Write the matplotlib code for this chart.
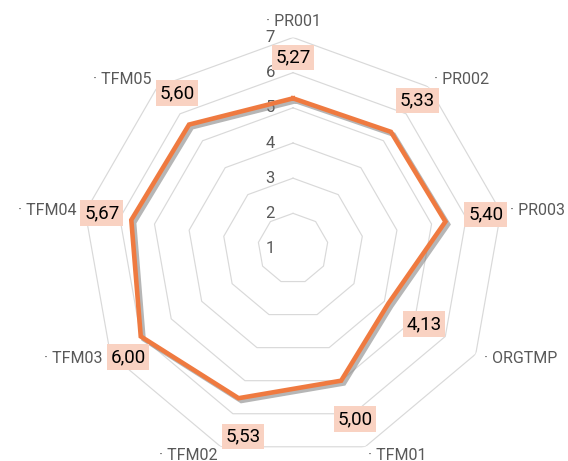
"""
Radar chart of average scores per item (Excel-style).
"""

import numpy as np
import matplotlib.pyplot as plt
from matplotlib import patheffects as pe


categories = ['PR001', 'PR002', 'PR003', 'ORGTMP', 'TFM01',
              'TFM02', 'TFM03', 'TFM04', 'TFM05']
values = [5.27, 5.33, 5.40, 4.13, 5.00, 5.53, 6.00, 5.67, 5.60]
r_ticks = [1, 2, 3, 4, 5, 6, 7]

LINE_COLOR = '#EF7A40'
GRID_COLOR = '#D9D9D9'
TEXT_GRAY = '#595959'
LABEL_BG = '#F9D2C2'

plt.rcParams['font.family'] = ['Roboto', 'DejaVu Sans']

fig = plt.figure(figsize=(5.68, 4.61), dpi=100)
ax = fig.add_axes([0.1444, 0.00325, 0.743, 0.9154], projection='polar')
ax.set_theta_zero_location('N')
ax.set_theta_direction(-1)
ax.set_ylim(r_ticks[0], r_ticks[-1])
ax.axis('off')

theta = np.linspace(0, 2 * np.pi, len(categories), endpoint=False)
closed = np.append(theta, theta[0])

# polygon grid rings
for r in r_ticks[1:]:
    ax.plot(closed, [r] * len(closed), color=GRID_COLOR, lw=0.85, zorder=1)

# radial tick labels along the top spoke
for r in r_ticks:
    ax.annotate(str(r), xy=(0, r), xytext=(-18, 0), textcoords='offset pixels',
                ha='right', va='center', fontsize=12, color=TEXT_GRAY)

# data series with a soft drop shadow
ax.plot(closed, values + values[:1], color=LINE_COLOR, lw=3.3, zorder=3,
        solid_joinstyle='miter',
        path_effects=[pe.SimpleLineShadow(offset=(2, -2), shadow_color='#7a7a7a', alpha=0.55),
                      pe.Normal()])

# category labels
cat_labels = []
for t, name in zip(theta, categories):
    s, c = np.sin(t), np.cos(t)
    if abs(s) < 0.01:
        ha, va = 'center', 'bottom'
    else:
        ha, va = ('left' if s > 0 else 'right'), 'center'
    txt = ax.annotate('· ' + name, xy=(t, r_ticks[-1]), xytext=(9 * s, 9 * c),
                      textcoords='offset pixels', ha=ha, va=va,
                      fontsize=11.5, color=TEXT_GRAY, annotation_clip=False)
    cat_labels.append(txt)

# value labels
val_labels = []
for t, v in zip(theta, values):
    s, c = np.sin(t), np.cos(t)
    txt = ax.annotate(f'{v:.2f}'.replace('.', ','), xy=(t, v), xytext=(41 * s, 41 * c),
                      textcoords='offset pixels', ha='center', va='center',
                      fontsize=13.5, color='black', zorder=5,
                      bbox=dict(boxstyle='square,pad=0.2', fc=LABEL_BG, ec='none'))
    val_labels.append(txt)

# push value labels sideways when they run into their category label
fig.canvas.draw()
renderer = fig.canvas.get_renderer()
for t, vl, cl in zip(theta, val_labels, cat_labels):
    bb = vl.get_bbox_patch().get_window_extent(renderer)
    cb = cl.get_window_extent(renderer)
    if not bb.overlaps(cb):
        continue
    dx, dy = vl.xyann
    if np.sin(t) < 0:
        dx += cb.x1 + 4 - bb.x0
    else:
        dx -= bb.x1 - (cb.x0 - 4)
    vl.xyann = (dx, dy)

fig.savefig('out.png', dpi=100)
